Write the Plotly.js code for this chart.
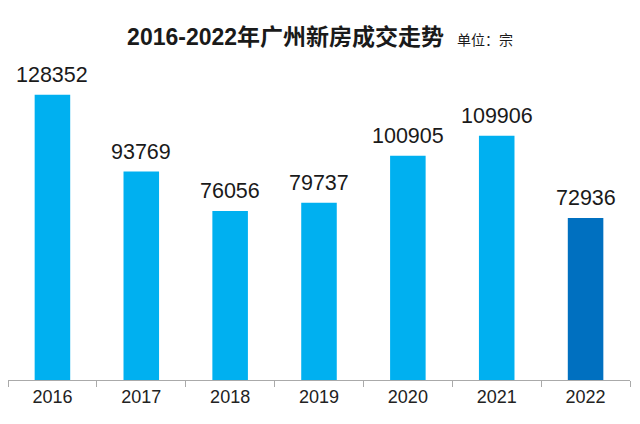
<!DOCTYPE html>
<html><head><meta charset="utf-8">
<script src="https://cdn.plot.ly/plotly-3.0.1.min.js"></script>
<style>html,body{margin:0;padding:0;background:#fff}</style>
</head><body><div id="chart" style="width:640px;height:424px"></div>
<script>
var years = ['2016','2017','2018','2019','2020','2021','2022'];
var deals = [128352, 93769, 76056, 79737, 100905, 109906, 72936];
var barColors = ['#00B0F0','#00B0F0','#00B0F0','#00B0F0','#00B0F0','#00B0F0','#0070C0'];
var fontFam = 'Liberation Sans, Arial, Noto Sans CJK SC, sans-serif';
var trace = {
  type: 'bar', x: years, y: deals,
  marker: {color: barColors},
  width: 0.4,
  hoverinfo: 'none'
};
var labels = years.map(function (yr, i) {
  return {
    x: i, y: deals[i], xref: 'x', yref: 'y',
    text: String(deals[i]), showarrow: false,
    xanchor: 'center', yanchor: 'bottom', yshift: 6,
    font: {size: 21.5, color: '#1a1a1a', family: fontFam}
  };
});
var layout = {
  width: 640, height: 424,
  margin: {l: 8, r: 10, t: 60, b: 44},
  paper_bgcolor: '#fff', plot_bgcolor: '#fff',
  showlegend: false,
  title: {
    text: '<b>2016-2022年广州新房成交走势</b>  <span style="font-size:14px">单位：宗</span>',
    font: {size: 23, color: '#1a1a1a', family: fontFam},
    x: 0.5, xanchor: 'center', y: 0.912, yanchor: 'middle'
  },
  annotations: labels,
  xaxis: {
    type: 'category', categoryarray: years, categoryorder: 'array',
    range: [-0.5, 6.5],
    showline: true, linecolor: '#aaaaaa', linewidth: 1,
    ticks: 'outside', tickson: 'boundaries', ticklen: 6, tickcolor: '#aaaaaa',
    tickfont: {size: 18, color: '#222', family: fontFam},
    showgrid: false, zeroline: false
  },
  yaxis: {range: [0, 144000], visible: false, showgrid: false, zeroline: false}
};
Plotly.newPlot('chart', [trace], layout, {displayModeBar: false, staticPlot: true});
</script></body></html>
